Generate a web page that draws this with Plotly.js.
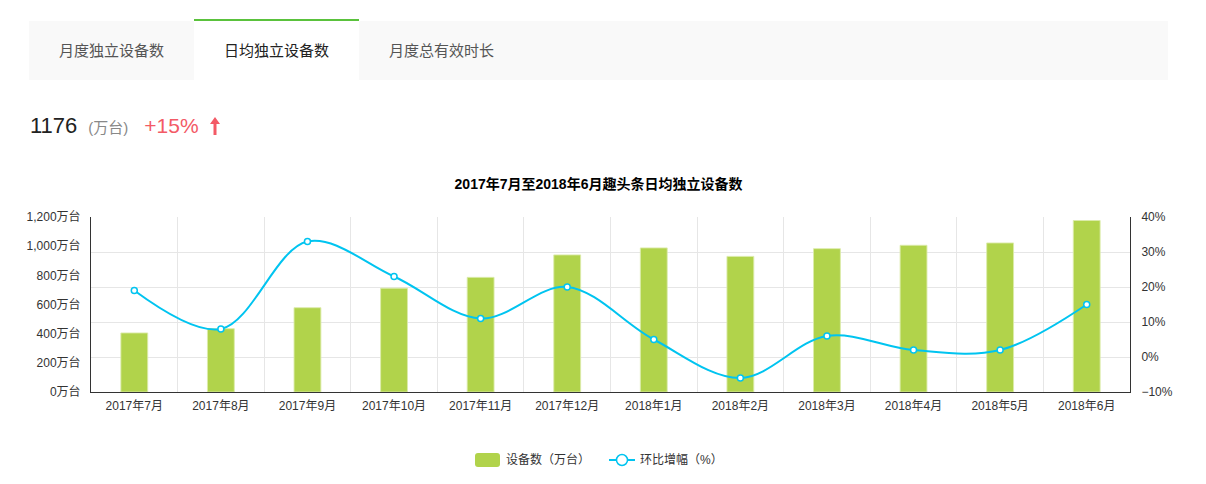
<!DOCTYPE html>
<html>
<head>
<meta charset="utf-8">
<script src="https://cdn.plot.ly/plotly-3.0.1.min.js"></script>
<style>
  html, body { margin: 0; padding: 0; background: #fff; }
  body { width: 1206px; height: 484px; position: relative; overflow: hidden;
         font-family: "Liberation Sans", "Noto Sans CJK SC", sans-serif; }
  #chart { position: absolute; left: 0; top: 0; width: 1206px; height: 484px; }
  .tabs { position: absolute; left: 29px; top: 21px; width: 1139px; height: 59px; background: #f9f9f9; z-index: 2; }
  .tab { position: absolute; top: 0; height: 59px; line-height: 59px; font-size: 15px; color: #555; text-align: center; width: 165px; }
  .tab.active { background: #fff; color: #222; border-top: 2px solid #5ac23c; top: -2px; }
  .head { position: absolute; left: 30px; top: 113px; z-index: 2; white-space: nowrap; height: 30px; }
  .num { font-size: 22px; color: #222; }
  .unit { font-size: 15px; color: #888; margin-left: 11px; }
  .pct { font-size: 21px; color: #f35a66; margin-left: 16px; }
  .arrow { position: absolute; left: 179px; top: 4px; }
  .legend { position: absolute; top: 452px; left: 0; width: 1206px; height: 16px; z-index: 2; font-size: 12px; color: #333; }
  .lg-item { position: absolute; top: 0; height: 16px; line-height: 16px; white-space: nowrap; }
  .lg-bar { position: absolute; left: 0; top: 1px; width: 25px; height: 14px; background: #b1d34b; border-radius: 3px; }
  .lg-text { position: absolute; left: 31px; top: 0; }
</style>
</head>
<body>
<div id="chart"></div>
<div class="tabs">
  <div class="tab" style="left:0px;">月度独立设备数</div>
  <div class="tab active" style="left:165px;">日均独立设备数</div>
  <div class="tab" style="left:330px;">月度总有效时长</div>
</div>
<div class="head"><span class="num">1176</span><span class="unit">(万台)</span><span class="pct">+15%</span>
  <svg class="arrow" width="12" height="18" viewBox="0 0 12 18"><polygon points="6,0 11,7 7.5,7 7.5,18 4.5,18 4.5,7 1,7" fill="#f35a66"/></svg>
</div>
<div class="legend" id="legend"></div>
<script>
const months = ['2017年7月','2017年8月','2017年9月','2017年10月','2017年11月','2017年12月','2018年1月','2018年2月','2018年3月','2018年4月','2018年5月','2018年6月'];
const devices = [405, 434, 578, 712, 786, 940, 988, 930, 983, 1006, 1022, 1176];
const growth = [19, 8, 33, 23, 11, 20, 5, -6, 6, 2, 2, 15];
const chartTitle = '2017年7月至2018年6月趣头条日均独立设备数';
const barName = '设备数（万台）';
const lineName = '环比增幅（%）';

const FONT = '"Liberation Sans", "Noto Sans CJK SC", sans-serif';
const CYAN = '#00c4f0';

// legend (HTML, matching the reference swatch shapes)
const lg = document.getElementById('legend');
lg.innerHTML =
  '<div class="lg-item" style="left:475px;"><div class="lg-bar"></div><span class="lg-text">' + barName + '</span></div>' +
  '<div class="lg-item" style="left:609px;"><svg width="28" height="16" style="position:absolute;left:0;top:0">' +
  '<line x1="0" y1="8" x2="26" y2="8" stroke="' + CYAN + '" stroke-width="2"/>' +
  '<circle cx="13" cy="8" r="5.5" fill="#fff" stroke="' + CYAN + '" stroke-width="1.5"/></svg>' +
  '<span class="lg-text" style="left:31px;">' + lineName + '</span></div>';

const traces = [
  {
    type: 'bar', x: months, y: devices, name: barName,
    marker: { color: '#b1d34b', line: { color: 'rgba(220,235,170,0.9)', width: 1 } },
    hoverinfo: 'x+y'
  },
  {
    type: 'scatter', mode: 'lines+markers', x: months, y: growth, name: lineName, yaxis: 'y2',
    line: { color: CYAN, width: 2, shape: 'spline', smoothing: 1 },
    marker: { symbol: 'circle', size: 6, color: '#fff', line: { color: CYAN, width: 1.5 } }
  }
];

const layout = {
  width: 1206, height: 484,
  margin: { l: 91, r: 76, t: 217, b: 92 },
  paper_bgcolor: 'rgba(0,0,0,0)', plot_bgcolor: '#fff',
  font: { family: FONT, size: 12, color: '#333' },
  title: { text: chartTitle, font: { family: FONT, size: 14, color: '#000', weight: 'bold' },
           x: 598.5/1206, xanchor: 'center', y: 1 - 184/484, yanchor: 'middle', yref: 'container' },
  bargap: 0.69,
  showlegend: false,
  xaxis: {
    type: 'category', range: [-0.5, months.length - 0.5], autorange: false,
    tickson: 'boundaries', showgrid: true, gridcolor: '#e6e6e6', gridwidth: 1,
    showline: true, linecolor: '#333', linewidth: 1, ticks: '', ticklabelstandoff: 3,
    tickfont: { size: 12, color: '#333' }, fixedrange: true
  },
  yaxis: {
    range: [0, 1200], dtick: 200, tickformat: ',d', ticksuffix: '万台',
    showgrid: false, zeroline: false, showline: true, linecolor: '#333', linewidth: 1,
    ticks: 'outside', ticklen: 7, tickcolor: 'rgba(0,0,0,0)', tickfont: { size: 12, color: '#333' }, fixedrange: true
  },
  yaxis2: {
    overlaying: 'y', side: 'right', range: [-10, 40], dtick: 10, ticksuffix: '%',
    showgrid: true, gridcolor: '#e6e6e6', gridwidth: 1, zeroline: false,
    showline: true, linecolor: '#333', linewidth: 1, ticks: 'outside', ticklen: 8, tickcolor: 'rgba(0,0,0,0)',
    tickfont: { size: 12, color: '#333' }, fixedrange: true
  }
};

Plotly.newPlot('chart', traces, layout, { displayModeBar: false, staticPlot: true });
</script>
</body>
</html>
